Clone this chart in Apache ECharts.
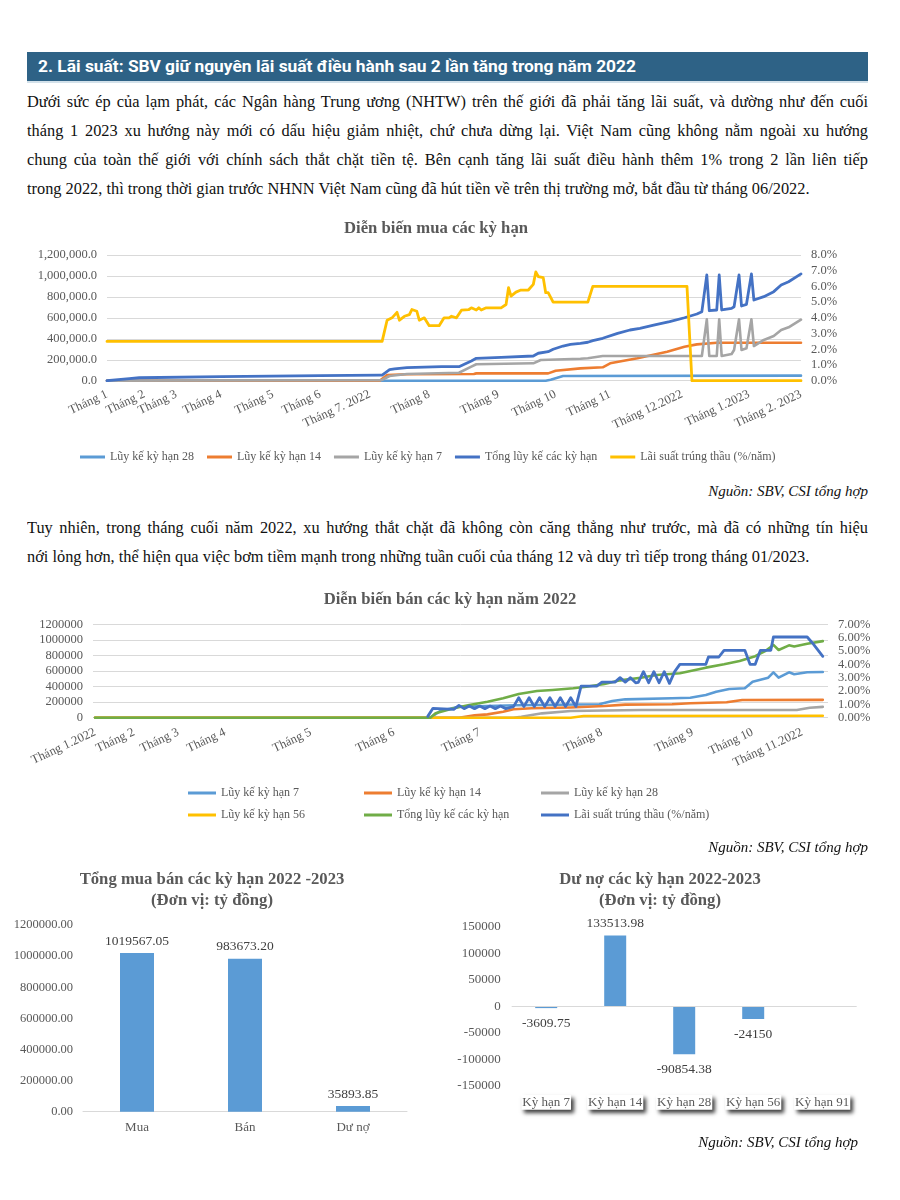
<!DOCTYPE html>
<html>
<head>
<meta charset="utf-8">
<script src="https://cdn.jsdelivr.net/npm/echarts@6/dist/echarts.min.js"></script>
<style>
  html, body { margin: 0; padding: 0; background: #fff; }
  body { width: 900px; height: 1200px; position: relative; overflow: hidden; }
  .abs { position: absolute; }
  #hdr { left: 27px; top: 52px; width: 841px; height: 29px; background: #2e6286; overflow: hidden; }
  #hdrLine { left: 27px; top: 81px; width: 841px; height: 2px; background: #d3e1ea; }
  #hdrText { position: absolute; left: 11px; top: 0; line-height: 29px; color: #fff; font-family: Roboto, 'Liberation Sans', sans-serif; font-weight: bold; font-size: 16px; white-space: nowrap; transform-origin: left center; }
  .line { position: absolute; left: 27px; width: 841px; height: 29px; line-height: 29px; font-family: 'Liberation Serif', 'Times New Roman', serif; font-size: 15.5px; color: #111; text-align: justify; text-align-last: justify; overflow: hidden; }
  .line.last { text-align: left; text-align-last: left; }
  .src { position: absolute; right: 32px; height: 20px; line-height: 20px; font-family: 'Liberation Serif', 'Times New Roman', serif; font-style: italic; font-size: 15px; color: #111; white-space: nowrap; z-index: 5; }
  .chart { position: absolute; }
</style>
</head>
<body>
<div id="hdr" class="abs"><span id="hdrText">2. Lãi suất: SBV giữ nguyên lãi suất điều hành sau 2 lần tăng trong năm 2022</span></div>
<div id="hdrLine" class="abs"></div>

<div class="line" style="top:86.5px"><span>Dưới sức ép của lạm phát, các Ngân hàng Trung ương (NHTW) trên thế giới đã phải tăng lãi suất, và dường như đến cuối</span></div>
<div class="line" style="top:115.5px"><span>tháng 1 2023 xu hướng này mới có dấu hiệu giảm nhiệt, chứ chưa dừng lại. Việt Nam cũng không nằm ngoài xu hướng</span></div>
<div class="line" style="top:144.5px"><span>chung của toàn thế giới với chính sách thắt chặt tiền tệ. Bên cạnh tăng lãi suất điều hành thêm 1% trong 2 lần liên tiếp</span></div>
<div class="line last" style="top:173.5px"><span id="p1last">trong 2022, thì trong thời gian trước NHNN Việt Nam cũng đã hút tiền về trên thị trường mở, bắt đầu từ tháng 06/2022.</span></div>

<div id="c1" class="chart" style="left:0;top:205px;width:900px;height:275px"></div>
<div class="src" style="top:481px">Nguồn: SBV, CSI tổng hợp</div>

<div class="line" style="top:512.5px"><span>Tuy nhiên, trong tháng cuối năm 2022, xu hướng thắt chặt đã không còn căng thẳng như trước, mà đã có những tín hiệu</span></div>
<div class="line last" style="top:541.5px"><span>nới lỏng hơn, thể hiện qua việc bơm tiềm mạnh trong những tuần cuối của tháng 12 và duy trì tiếp trong tháng 01/2023.</span></div>

<div id="c2" class="chart" style="left:0;top:585px;width:900px;height:255px"></div>
<div class="src" style="top:837px">Nguồn: SBV, CSI tổng hợp</div>

<div id="c3" class="chart" style="left:0;top:860px;width:440px;height:300px"></div>
<div id="c4" class="chart" style="left:440px;top:860px;width:460px;height:300px"></div>
<div class="src" style="top:1132px;right:42px">Nguồn: SBV, CSI tổng hợp</div>

<script>
// ---------------- DATA ----------------
// Chart 1: Diễn biến mua các kỳ hạn (x = phiên giao dịch, index)
const buyTicks = [0, 15, 28, 46, 67, 86, 106, 130, 158, 181, 203, 232, 259, 280];
const buyTickLabels = ['Tháng 1', 'Tháng 2', 'Tháng 3', 'Tháng 4', 'Tháng 5', 'Tháng 6', 'Tháng 7. 2022', 'Tháng 8', 'Tháng 9', 'Tháng 10', 'Tháng 11', 'Tháng 12.2022', 'Tháng 1.2023', 'Tháng 2. 2023'];
const buy28 = [[0,0],[177,0],[179,10000],[184,45000],[280,48000]];
const buy14 = [[0,0],[110,0],[113,55000],[121,62000],[148,64000],[149,70000],[178,70000],[181,95000],[191,118000],[200,128000],[203,166000],[214,214000],[226,277000],[233,325000],[238,347000],[246,363000],[280,363000]];
const buy7 = [[0,0],[46,3000],[110,5000],[111,7000],[114,45000],[121,64000],[142,76000],[147,134000],[149,157000],[172,166000],[175,198000],[191,210000],[194,214000],[200,236000],[240,236000],[242,586000],[243,236000],[246,236000],[247,586000],[248,236000],[252,255000],[253,293000],[255,586000],[256,293000],[258,309000],[260,586000],[261,331000],[265,389000],[269,427000],[272,484000],[275,510000],[280,583000]];
const buyTotal = [[0,0],[9,20000],[13,28000],[46,38000],[86,48000],[110,54000],[111,54000],[114,105000],[116,112000],[121,124000],[135,134000],[142,134000],[147,188000],[149,214000],[159,223000],[172,236000],[174,262000],[178,277000],[180,300000],[184,331000],[187,347000],[191,357000],[194,367000],[196,382000],[200,405000],[206,452000],[211,484000],[215,500000],[221,532000],[227,563000],[233,601000],[238,637000],[240,659000],[242,1009000],[243,668000],[246,675000],[247,1009000],[248,675000],[252,691000],[253,706000],[255,1009000],[256,713000],[258,729000],[260,1019000],[261,770000],[265,802000],[269,850000],[272,914000],[275,945000],[280,1019567]];
const buyRate = [[0,2.5],[111,2.5],[113,3.85],[115,4.0],[117,4.35],[118,3.85],[120,4.1],[122,4.2],[123,4.53],[125,4.42],[126,3.85],[128,4.0],[130,3.5],[134,3.5],[136,4.0],[138,4.0],[139,4.1],[141,4.0],[143,4.49],[146,4.53],[147,4.64],[149,4.5],[150,4.64],[151,4.5],[153,4.64],[159,4.64],[161,4.85],[162,5.92],[163,5.38],[165,5.64],[167,5.77],[170,5.77],[172,6.13],[173,6.92],[174,6.63],[176,6.56],[177,5.6],[178,5.6],[180,5.0],[194,5.0],[196,6.0],[234,6.0],[236,0],[280,0]];

// Chart 2: Diễn biến bán các kỳ hạn năm 2022
const sellTicks = [0, 15, 32, 50, 83, 115, 148, 195, 230, 253, 272];
const sellTickLabels = ['Tháng 1.2022', 'Tháng 2', 'Tháng 3', 'Tháng 4', 'Tháng 5', 'Tháng 6', 'Tháng 7', 'Tháng 8', 'Tháng 9', 'Tháng 10', 'Tháng 11.2022'];
const sell7 = [[0,0],[129,0],[133,90000],[140,140000],[162,160000],[194,172000],[199,214000],[204,236000],[222,249000],[229,257000],[235,292000],[239,334000],[244,369000],[250,378000],[253,463000],[259,514000],[261,583000],[263,514000],[267,583000],[269,558000],[274,583000],[280,587000]];
const sell14 = [[0,0],[140,0],[146,30000],[151,43000],[157,77000],[161,108000],[168,121000],[183,132000],[196,150000],[204,168000],[222,172000],[229,185000],[243,198000],[249,227000],[280,229486]];
const sell28 = [[0,0],[161,0],[164,13000],[172,56000],[183,86000],[210,99000],[270,99000],[275,128000],[280,138854]];
const sell56 = [[0,0],[183,0],[188,22000],[280,24150]];
const sellTotal = [[0,0],[129,0],[131,56000],[138,121000],[144,163000],[151,206000],[157,249000],[163,305000],[170,343000],[176,356000],[184,378000],[189,398000],[196,433000],[202,480000],[210,514000],[216,549000],[225,571000],[235,643000],[242,686000],[248,729000],[254,790000],[258,860000],[261,935000],[263,870000],[267,930000],[269,915000],[274,950000],[280,983673]];
const sellRate = [[128,0.1],[130,0.7],[138,0.62],[140,0.92],[142,0.68],[144,0.87],[146,0.68],[148,0.87],[150,0.68],[152,0.87],[154,0.68],[156,0.87],[158,0.68],[161,0.83],[163,1.5],[165,0.83],[167,1.5],[169,0.83],[171,1.5],[173,0.83],[175,1.5],[177,0.83],[179,1.5],[181,0.83],[183,1.5],[185,0.83],[187,2.37],[193,2.37],[195,2.67],[200,2.67],[202,3.0],[204,2.67],[206,3.0],[208,2.62],[209,2.65],[211,3.45],[213,2.62],[215,3.45],[217,2.62],[219,3.45],[221,2.57],[223,3.45],[225,4.0],[235,4.0],[236,4.55],[240,4.55],[242,5.05],[250,5.05],[252,4.0],[254,4.0],[256,5.05],[260,5.05],[261,6.05],[274,6.05],[276,5.6],[280,4.6]];

// Chart 3: Tổng mua bán các kỳ hạn 2022-2023
const totalCats = ['Mua', 'Bán', 'Dư nợ'];
const totalVals = [1019567.05, 983673.20, 35893.85];

// Chart 4: Dư nợ các kỳ hạn 2022-2023
const termCats = ['Kỳ hạn 7', 'Kỳ hạn 14', 'Kỳ hạn 28', 'Kỳ hạn 56', 'Kỳ hạn 91'];
const termVals = [-3609.75, 133513.98, -90854.38, -24150, 0];

// ---------------- TEXT FITTING ----------------
(function () {
  const h = document.getElementById('hdrText');
  const w = h.getBoundingClientRect().width;
  h.style.transform = 'scaleX(' + (598 / w) + ')';
  const last = document.getElementById('p1last');
  const lw = last.getBoundingClientRect().width;
  const fs = 15.5 * 783 / lw;
  document.querySelectorAll('.line').forEach(function (d) { d.style.fontSize = fs + 'px'; });
})();

// ---------------- CHARTS ----------------
const SERIF = "'Liberation Serif', 'Times New Roman', serif";
const GRAY = '#595959';
const C_LB = '#5b9bd5', C_OR = '#ed7d31', C_GR = '#a5a5a5', C_YE = '#ffc000', C_BL = '#4472c4', C_GN = '#70ad47';
const plain = function (v) { return String(v); };

function lineS(name, data, color, yIdx, width) {
  return { name: name, type: 'line', data: data, yAxisIndex: yIdx || 0, symbol: 'none', showSymbol: false,
    lineStyle: { color: color, width: width || 2.6, join: 'round', cap: 'round' }, itemStyle: { color: color }, z: 2 };
}
const axisText = { color: GRAY, fontSize: 12.5, fontFamily: SERIF };
const titleText = { fontFamily: SERIF, fontSize: 16.7, fontWeight: 'bold', color: GRAY, lineHeight: 21 };

// Chart 1
const c1 = echarts.init(document.getElementById('c1'));
c1.setOption({
  animation: false,
  textStyle: { fontFamily: SERIF },
  title: { text: 'Diễn biến mua các kỳ hạn', left: 436, top: 13, textAlign: 'center', padding: 0, textStyle: titleText },
  legend: { data: ['Lũy kế kỳ hạn 28', 'Lũy kế kỳ hạn 14', 'Lũy kế kỳ hạn 7', 'Tổng lũy kế các kỳ hạn', 'Lãi suất trúng thầu (%/năm)'],
    left: 80, top: 246, padding: 0, icon: 'rect', itemWidth: 25, itemHeight: 3, itemGap: 13,
    textStyle: { color: GRAY, fontSize: 12, fontFamily: SERIF } },
  grid: { left: 107, top: 50, width: 694, height: 125.7 },
  xAxis: { type: 'value', min: 0, max: 280, axisLine: { show: false }, axisTick: { show: false }, splitLine: { show: false },
    axisLabel: Object.assign({ customValues: buyTicks, rotate: 25, margin: 13,
      formatter: function (v) { const i = buyTicks.indexOf(v); return i >= 0 ? buyTickLabels[i] : ''; } }, axisText) },
  yAxis: [
    { type: 'value', min: 0, max: 1200000, interval: 200000, axisLine: { show: false }, axisTick: { show: false },
      splitLine: { lineStyle: { color: '#d9d9d9', width: 1 } },
      axisLabel: Object.assign({ margin: 10, formatter: function (v) { return v.toLocaleString('en-US', { minimumFractionDigits: 1, maximumFractionDigits: 1 }); } }, axisText) },
    { type: 'value', min: 0, max: 8, interval: 1, position: 'right', axisLine: { show: false }, axisTick: { show: false }, splitLine: { show: false },
      axisLabel: Object.assign({ margin: 10, formatter: function (v) { return v.toFixed(1) + '%'; } }, axisText) }
  ],
  series: [
    lineS('Lũy kế kỳ hạn 28', buy28, C_LB),
    lineS('Lũy kế kỳ hạn 14', buy14, C_OR),
    lineS('Lũy kế kỳ hạn 7', buy7, C_GR),
    lineS('Tổng lũy kế các kỳ hạn', buyTotal, C_BL, 0, 2.8),
    lineS('Lãi suất trúng thầu (%/năm)', buyRate, C_YE, 1, 2.8)
  ]
});

// Chart 2
const legBase = { orient: 'vertical', top: 201, padding: 0, icon: 'rect', itemWidth: 28, itemHeight: 3, itemGap: 8,
  textStyle: { color: GRAY, fontSize: 12, fontFamily: SERIF, lineHeight: 14 } };
const c2 = echarts.init(document.getElementById('c2'));
c2.setOption({
  animation: false,
  textStyle: { fontFamily: SERIF },
  title: { text: 'Diễn biến bán các kỳ hạn năm 2022', left: 450, top: 4, textAlign: 'center', padding: 0, textStyle: titleText },
  legend: [
    Object.assign({ left: 188, data: ['Lũy kế kỳ hạn 7', 'Lũy kế kỳ hạn 56'] }, legBase),
    Object.assign({ left: 364, data: ['Lũy kế kỳ hạn 14', 'Tổng lũy kế các kỳ hạn'] }, legBase),
    Object.assign({ left: 541, data: ['Lũy kế kỳ hạn 28', 'Lãi suất trúng thầu (%/năm)'] }, legBase)
  ],
  grid: { left: 93, top: 39.3, width: 735, height: 93.4 },
  xAxis: { type: 'value', min: -0.8, max: 282, axisLine: { show: false }, axisTick: { show: false }, splitLine: { show: false },
    axisLabel: Object.assign({ customValues: sellTicks, rotate: 25, margin: 14,
      formatter: function (v) { const i = sellTicks.indexOf(v); return i >= 0 ? sellTickLabels[i] : ''; } }, axisText) },
  yAxis: [
    { type: 'value', min: 0, max: 1200000, interval: 200000, axisLine: { show: false }, axisTick: { show: false },
      splitLine: { lineStyle: { color: '#d9d9d9', width: 1 } },
      axisLabel: Object.assign({ margin: 10, formatter: plain }, axisText) },
    { type: 'value', min: 0, max: 7, interval: 1, position: 'right', axisLine: { show: false }, axisTick: { show: false }, splitLine: { show: false },
      axisLabel: Object.assign({ margin: 10, formatter: function (v) { return v.toFixed(2) + '%'; } }, axisText) }
  ],
  series: [
    lineS('Lũy kế kỳ hạn 7', sell7, C_LB),
    lineS('Lũy kế kỳ hạn 14', sell14, C_OR),
    lineS('Lũy kế kỳ hạn 28', sell28, C_GR),
    lineS('Lũy kế kỳ hạn 56', sell56, C_YE),
    lineS('Tổng lũy kế các kỳ hạn', sellTotal, C_GN),
    lineS('Lãi suất trúng thầu (%/năm)', sellRate, C_BL, 1, 2.8)
  ]
});

// Chart 3
const c3 = echarts.init(document.getElementById('c3'));
c3.setOption({
  animation: false,
  textStyle: { fontFamily: SERIF },
  title: { text: 'Tổng mua bán các kỳ hạn 2022 -2023\n(Đơn vị: tỷ đồng)', left: 212, top: 9, textAlign: 'center', padding: 0, textStyle: titleText },
  grid: { left: 83, top: 65, width: 324, height: 186.7 },
  xAxis: { type: 'category', data: totalCats, axisLine: { lineStyle: { color: '#d9d9d9' } }, axisTick: { show: false },
    axisLabel: Object.assign({ margin: 9, interval: 0 }, axisText, { fontSize: 13 }) },
  yAxis: { type: 'value', min: 0, max: 1200000, interval: 200000, splitLine: { show: false }, axisLine: { show: false }, axisTick: { show: false },
    axisLabel: Object.assign({ margin: 10, formatter: function (v) { return v.toFixed(2); } }, axisText) },
  series: [{ type: 'bar', data: totalVals, barWidth: 34, itemStyle: { color: C_LB },
    label: { show: true, position: 'top', distance: 5, color: '#404040', fontSize: 13.5, fontFamily: SERIF,
      formatter: function (p) { return p.value.toFixed(2); } } }]
});

// Chart 4
const c4 = echarts.init(document.getElementById('c4'));
c4.setOption({
  animation: false,
  textStyle: { fontFamily: SERIF },
  title: { text: 'Dư nợ các kỳ hạn 2022-2023\n(Đơn vị: tỷ đồng)', left: 220, top: 9, textAlign: 'center', padding: 0, textStyle: titleText },
  grid: { left: 71.7, top: 66.7, width: 345, height: 159 },
  xAxis: { type: 'category', data: termCats, axisLine: { show: false, onZero: false }, axisTick: { show: false },
    axisLabel: Object.assign({ margin: 9, interval: 0, backgroundColor: '#fff', padding: [1, 1],
      shadowColor: 'rgba(0,0,0,0.75)', shadowBlur: 4, shadowOffsetX: 3, shadowOffsetY: 3 }, axisText, { fontSize: 13 }) },
  yAxis: { type: 'value', min: -150000, max: 150000, interval: 50000, splitLine: { show: false }, axisLine: { show: false }, axisTick: { show: false },
    axisLabel: Object.assign({ margin: 11, formatter: plain }, axisText, { fontSize: 13 }) },
  series: [{ type: 'bar', barWidth: 22, itemStyle: { color: C_LB },
    data: termVals.map(function (v) {
      return { value: v, label: { show: v !== 0, position: v < 0 ? 'bottom' : 'top', distance: v < 0 ? 8 : 5 } };
    }),
    label: { show: true, color: '#404040', fontSize: 13.5, fontFamily: SERIF, formatter: function (p) { return String(p.value); } },
    markLine: { silent: true, symbol: 'none', label: { show: false }, lineStyle: { color: '#d9d9d9', width: 1, type: 'solid' },
      data: [{ yAxis: 0 }] } }]
});
</script>
</body>
</html>
